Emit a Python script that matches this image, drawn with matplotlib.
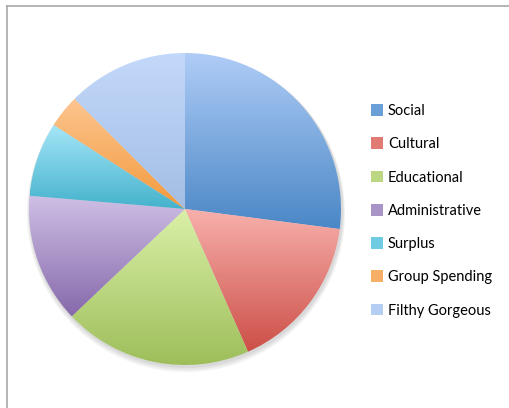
import numpy as np
import matplotlib.pyplot as plt
from matplotlib.patches import Rectangle
from matplotlib.colors import LinearSegmentedColormap
from matplotlib.lines import Line2D

labels = ['Social', 'Cultural', 'Educational', 'Administrative', 'Surplus',
          'Group Spending', 'Filthy Gorgeous']
values = [27.0, 16.3, 19.5, 13.4, 7.7, 3.4, 12.5]
# light (top) / dark (bottom) for each slice gradient
tops = ['#b0cdf7', '#f8b0ac', '#daf0a8', '#cfc0e6', '#a6e6f8', '#fcc590', '#c3d9fb']
bottoms = ['#4a87c6', '#cc4f47', '#9ebe5a', '#8669ab', '#44b2cc', '#f39a3c', '#a3bde3']
legend_colors = ['#6b9fd8', '#e07a73', '#bcd681', '#a994c8', '#6fcbe2', '#f7ae66', '#b4cdf2']

W, H = 509, 408
fig = plt.figure(figsize=(W / 100, H / 100), dpi=100)
ax = fig.add_axes([0, 0, 1, 1])
ax.axis('off')

cx, cy, r = 185, H - 209, 156

# soft shadow
for k in range(3):
    ax.add_patch(plt.Circle((cx + 1, cy - 2 - k), r + 1 + k, color='k', alpha=0.05, lw=0))

wedges, _ = ax.pie(values, center=(cx, cy), radius=r, startangle=90,
                   counterclock=False, wedgeprops=dict(linewidth=0))
ax.set_xlim(0, W)
ax.set_ylim(0, H)
ax.set_aspect('equal')

grad = np.linspace(1, 0, 256).reshape(-1, 1)
for w, t, b in zip(wedges, tops, bottoms):
    cmap = LinearSegmentedColormap.from_list('g', [b, t])
    ext = w.get_path().get_extents().transformed(w.get_transform())
    ext = ext.transformed(ax.transData.inverted())
    im = ax.imshow(grad, cmap=cmap, aspect='auto', origin='upper',
                   extent=[ext.x0, ext.x1, ext.y0, ext.y1], zorder=2,
                   interpolation='bilinear', vmin=0, vmax=1)
    im.set_clip_path(w)
    w.set_facecolor('none')
ax.set_xlim(0, W)
ax.set_ylim(0, H)

handles = [Rectangle((0, 0), 1, 1, facecolor=c, edgecolor='none') for c in legend_colors]
ax.legend(handles, labels, loc='upper left', bbox_to_anchor=(371 / W, 1 - 104 / H),
          frameon=False, prop={'family': 'Lato', 'size': 10.5},
          handlelength=0.85, handleheight=0.85, handletextpad=0.3,
          labelspacing=1.32, borderpad=0, borderaxespad=0)

# chart frame (cropped on right and bottom)
fig.add_artist(Line2D([7 / W, 7 / W], [0, 1 - 6 / H], transform=fig.transFigure,
                      color='#a8a8a8', lw=1.2))
fig.add_artist(Line2D([7 / W, 1], [1 - 6 / H, 1 - 6 / H], transform=fig.transFigure,
                      color='#a8a8a8', lw=1.2))

plt.savefig('out.png', dpi=100)
